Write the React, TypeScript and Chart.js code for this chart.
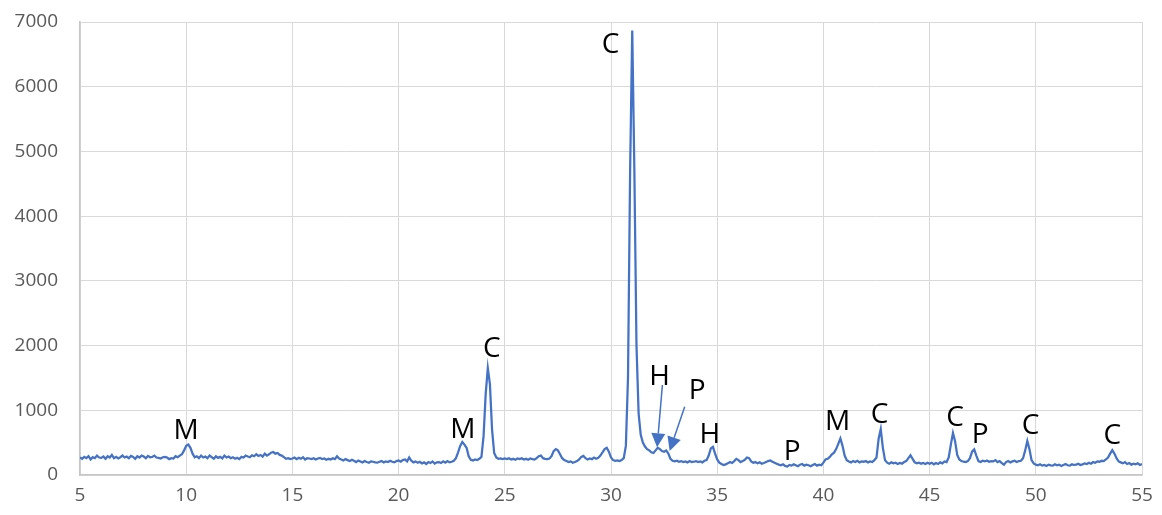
import { useEffect, useRef } from "react";
import { Chart, registerables } from "chart.js";

Chart.register(...registerables);

// 2θ scan grid: 5° to 55° in 0.1° steps
const TWO_THETA_START = 5;
const TWO_THETA_STEP = 0.1;

// Measured intensity (counts), one row per degree (x.0 … x.9)
const intensity = [
  270, 250, 280, 260, 290, 240, 275, 260, 300, 270, // 5
  265, 285, 250, 290, 270, 310, 260, 280, 255, 275, // 6
  300, 270, 285, 260, 295, 280, 250, 290, 270, 300, // 7
  285, 260, 295, 275, 280, 300, 270, 265, 255, 275, // 8
  280, 270, 245, 260, 255, 290, 275, 300, 320, 380, // 9
  450, 470, 420, 330, 275, 290, 260, 300, 270, 285, // 10
  260, 300, 275, 250, 290, 265, 280, 255, 300, 270, // 11
  285, 260, 275, 250, 265, 245, 280, 270, 300, 285, // 12
  275, 305, 290, 320, 295, 310, 285, 330, 300, 320, // 13
  345, 355, 330, 340, 310, 300, 275, 250, 260, 245, // 14
  255, 270, 245, 265, 250, 275, 240, 260, 255, 245, // 15
  260, 240, 255, 265, 245, 255, 235, 250, 240, 260, // 16
  245, 290, 255, 240, 225, 245, 230, 215, 235, 220, // 17
  200, 225, 210, 195, 215, 200, 190, 210, 205, 195, // 18
  190, 205, 215, 195, 210, 200, 220, 205, 195, 215, // 19
  225, 205, 230, 240, 210, 270, 220, 195, 210, 190, // 20
  205, 180, 195, 170, 200, 185, 210, 175, 195, 200, // 21
  185, 210, 190, 215, 195, 205, 220, 260, 350, 450, // 22
  510, 470, 420, 290, 235, 225, 240, 230, 250, 280, // 23
  600, 1250, 1650, 1400, 700, 340, 270, 250, 255, 245, // 24
  255, 245, 260, 240, 250, 235, 255, 245, 260, 240, // 25
  250, 235, 255, 245, 240, 260, 290, 300, 260, 250, // 26
  245, 255, 290, 370, 400, 380, 320, 260, 230, 215, // 27
  200, 210, 190, 200, 215, 240, 280, 295, 260, 240, // 28
  255, 245, 270, 250, 265, 300, 350, 400, 420, 360, // 29
  270, 230, 220, 225, 215, 230, 260, 450, 1500, 4700, // 30
  6870, 4700, 2000, 950, 620, 500, 440, 400, 380, 350, // 31
  340, 380, 420, 400, 370, 360, 380, 330, 250, 220, // 32
  210, 220, 205, 215, 200, 210, 195, 215, 200, 205, // 33
  215, 200, 210, 195, 220, 230, 300, 410, 435, 330, // 34
  240, 190, 170, 155, 165, 180, 200, 185, 215, 250, // 35
  230, 200, 215, 235, 270, 260, 210, 190, 200, 180, // 36
  195, 175, 185, 200, 215, 225, 205, 190, 175, 160, // 37
  150, 165, 140, 130, 155, 145, 165, 150, 135, 160, // 38
  170, 145, 160, 150, 135, 155, 170, 145, 160, 150, // 39
  190, 240, 250, 280, 320, 345, 400, 480, 565, 450, // 40
  300, 230, 210, 195, 215, 200, 220, 195, 210, 205, // 41
  215, 195, 210, 200, 230, 270, 560, 710, 420, 230, // 42
  190, 175, 195, 180, 190, 170, 185, 175, 200, 215, // 43
  260, 305, 250, 195, 180, 190, 175, 185, 170, 190, // 44
  175, 190, 165, 185, 170, 195, 180, 210, 200, 270, // 45
  470, 650, 520, 310, 240, 215, 205, 200, 215, 260, // 46
  360, 395, 300, 215, 200, 220, 210, 225, 205, 215, // 47
  210, 230, 200, 215, 185, 160, 200, 215, 195, 210, // 48
  220, 200, 215, 220, 260, 380, 525, 400, 230, 180, // 49
  160, 150, 165, 145, 155, 140, 160, 150, 145, 165, // 50
  150, 160, 140, 155, 170, 150, 145, 165, 155, 160, // 51
  175, 155, 165, 180, 170, 190, 175, 200, 190, 210, // 52
  205, 220, 215, 240, 270, 330, 385, 330, 260, 210, // 53
  195, 180, 200, 170, 185, 160, 175, 165, 180, 155, // 54
  170, // 55
];

// Phase labels placed in data coordinates (2θ, counts)
const phaseLabels = [
  { text: "M", x: 10.0, y: 710 },
  { text: "M", x: 23.02, y: 726 },
  { text: "C", x: 24.39, y: 1982 },
  { text: "C", x: 29.98, y: 6674 },
  { text: "H", x: 32.29, y: 1545 },
  { text: "P", x: 34.06, y: 1329 },
  { text: "H", x: 34.65, y: 649 },
  { text: "P", x: 38.53, y: 386 },
  { text: "M", x: 40.67, y: 850 },
  { text: "C", x: 42.65, y: 958 },
  { text: "C", x: 46.2, y: 911 },
  { text: "P", x: 47.38, y: 649 },
  { text: "C", x: 49.75, y: 788 },
  { text: "C", x: 53.6, y: 633 },
];

// Pointer arrows for the H and P reflections in the tail of the main peak
const pointerArrows = [
  { fromX: 32.42, fromY: 1390, toX: 32.17, toY: 428 },
  { fromX: 33.47, fromY: 1055, toX: 32.76, toY: 371 },
];

const LINE_BLUE = "#4472C4";
const TICK_FONT = { family: '"Open Sans", sans-serif', size: 19 };

const phaseAnnotations = {
  id: "phaseAnnotations",
  afterDatasetsDraw(chart: any) {
    const { ctx } = chart;
    const xs = chart.scales.x;
    const ys = chart.scales.y;
    ctx.save();

    // arrows
    ctx.strokeStyle = LINE_BLUE;
    ctx.fillStyle = LINE_BLUE;
    ctx.lineWidth = 1.5;
    const headLen = 14;
    const headHalf = 7;
    for (const a of pointerArrows) {
      const x0 = xs.getPixelForValue(a.fromX);
      const y0 = ys.getPixelForValue(a.fromY);
      const x1 = xs.getPixelForValue(a.toX);
      const y1 = ys.getPixelForValue(a.toY);
      const ang = Math.atan2(y1 - y0, x1 - x0);
      const bx = x1 - headLen * Math.cos(ang);
      const by = y1 - headLen * Math.sin(ang);
      ctx.beginPath();
      ctx.moveTo(x0, y0);
      ctx.lineTo(bx, by);
      ctx.stroke();
      ctx.beginPath();
      ctx.moveTo(x1, y1);
      ctx.lineTo(bx + headHalf * Math.sin(ang), by - headHalf * Math.cos(ang));
      ctx.lineTo(bx - headHalf * Math.sin(ang), by + headHalf * Math.cos(ang));
      ctx.closePath();
      ctx.fill();
    }

    // letters
    const size = 28;
    ctx.font = `500 ${size}px "Open Sans", sans-serif`;
    ctx.fillStyle = "#000000";
    ctx.textAlign = "center";
    ctx.textBaseline = "alphabetic";
    for (const l of phaseLabels) {
      const px = xs.getPixelForValue(l.x);
      const py = ys.getPixelForValue(l.y);
      ctx.fillText(l.text, px, py + size * 0.357);
    }
    ctx.restore();
  },
};

export default function App() {
  const canvasRef = useRef<HTMLCanvasElement | null>(null);

  useEffect(() => {
    const canvas = canvasRef.current;
    if (!canvas) return;
    const points = intensity.map((v, i) => ({
      x: TWO_THETA_START + i * TWO_THETA_STEP,
      y: v,
    }));
    const chart = new Chart(canvas, {
      type: "line",
      data: {
        datasets: [
          {
            data: points,
            borderColor: LINE_BLUE,
            borderWidth: 2.25,
            pointRadius: 0,
            tension: 0,
            fill: false,
          },
        ],
      },
      options: {
        animation: false,
        responsive: false,
        parsing: false,
        layout: { padding: { top: 22, right: 20, left: 0, bottom: 0 } },
        plugins: {
          legend: { display: false },
          tooltip: { enabled: false },
        },
        scales: {
          x: {
            type: "linear",
            min: 5,
            max: 55,
            ticks: {
              stepSize: 5,
              color: "#595959",
              font: TICK_FONT,
              padding: 9,
              maxRotation: 0,
              callback: (v: any) => String(v),
            },
            grid: { color: "#d9d9d9", lineWidth: 1, drawTicks: false },
            border: { color: "#c6c6c6", width: 1.5 },
            afterFit(scale: any) {
              scale.height = 40;
              scale.paddingLeft = 0;
              scale.paddingRight = 0;
            },
          },
          y: {
            min: 0,
            max: 7000,
            ticks: {
              stepSize: 1000,
              color: "#595959",
              font: TICK_FONT,
              padding: 22,
              callback: (v: any) => String(v),
            },
            grid: { color: "#d9d9d9", lineWidth: 1, drawTicks: false },
            border: { color: "#c6c6c6", width: 1.5 },
            afterFit(scale: any) {
              scale.width = 80;
              scale.paddingTop = 0;
              scale.paddingBottom = 0;
            },
          },
        },
      },
      plugins: [phaseAnnotations],
    });
    return () => chart.destroy();
  }, []);

  return (
    <div
      style={{
        position: "absolute",
        left: 0,
        top: 0,
        width: 1162,
        height: 515,
        background: "#ffffff",
      }}
    >
      <canvas ref={canvasRef} width={1162} height={515} />
    </div>
  );
}
